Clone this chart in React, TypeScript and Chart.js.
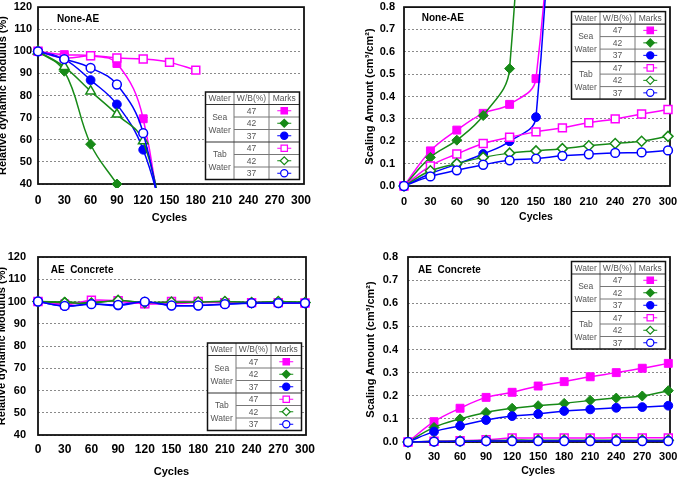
import React, { useEffect, useRef } from "react";
import { Chart, registerables } from "chart.js";

Chart.register(...registerables);

// Freeze-thaw cycles (x axis)
const cycles = [0, 30, 60, 90, 120, 150, 180, 210, 240, 270, 300];
const wbRatios = ["47", "42", "37"];
const waterGroups = [["Sea", "Water"], ["Tab", "Water"]];
const tableHeader = ["Water", "W/B(%)", "Marks"];

// None-AE concrete: relative dynamic modulus (%)
const nonAeModSea47 = [100, 98.5, 98, 94.5, 69.5, -12];
const nonAeModSea42 = [100, 91, 58, 40];
const nonAeModSea37 = [100, 96.5, 87, 76, 55.5, 14];
const nonAeModTab47 = [100, 97, 98, 97, 96.5, 95, 91.5];
const nonAeModTab42 = [100, 93, 82, 71.5, 59.5, 6];
const nonAeModTab37 = [100, 96.5, 92.5, 85, 63, 0];

// None-AE concrete: scaling amount (cm3/cm2)
const nonAeScaleSea47 = [0, 0.157, 0.25, 0.325, 0.365, 0.48, 2.4];
const nonAeScaleSea42 = [0, 0.128, 0.205, 0.315, 0.525, 3.2];
const nonAeScaleSea37 = [0, 0.055, 0.098, 0.143, 0.2, 0.308, 2.8];
const nonAeScaleTab47 = [0, 0.09, 0.143, 0.19, 0.218, 0.242, 0.26, 0.283, 0.3, 0.322, 0.342];
const nonAeScaleTab42 = [0, 0.068, 0.1, 0.128, 0.147, 0.157, 0.167, 0.18, 0.19, 0.2, 0.222];
const nonAeScaleTab37 = [0, 0.043, 0.07, 0.095, 0.115, 0.122, 0.135, 0.142, 0.148, 0.15, 0.159];

// AE concrete: relative dynamic modulus (%)
const aeModSea47 = [100, 99, 100, 100, 99, 99, 99.5, 99.5, 99.5, 99.5, 99.3];
const aeModSea42 = [100, 99.8, 99.6, 100.3, 99.5, 99.6, 99.8, 100, 99.6, 100, 99.6];
const aeModSea37 = [100, 98, 99, 98.2, 99.8, 98.2, 98.2, 98.8, 99.2, 99.2, 99.2];
const aeModTab47 = [100, 98.5, 100.6, 100.3, 99, 100, 100, 99.5, 99.5, 99.5, 99.3];
const aeModTab42 = [100, 99.5, 99.3, 100.5, 99.5, 99.8, 99.8, 100, 99.5, 100, 99.5];
const aeModTab37 = [100, 98, 98.8, 98.5, 99.9, 98.2, 98.2, 98.8, 99.3, 99.3, 99.3];

// AE concrete: scaling amount (cm3/cm2)
const aeScaleSea47 = [0, 0.088, 0.146, 0.193, 0.215, 0.242, 0.261, 0.282, 0.3, 0.319, 0.34];
const aeScaleSea42 = [0, 0.063, 0.1, 0.128, 0.146, 0.157, 0.167, 0.18, 0.19, 0.199, 0.222];
const aeScaleSea37 = [0, 0.045, 0.07, 0.095, 0.112, 0.121, 0.134, 0.141, 0.148, 0.151, 0.157];
const aeScaleTab47 = [0, 0.003, 0.006, 0.01, 0.017, 0.017, 0.017, 0.017, 0.018, 0.018, 0.018];
const aeScaleTab42 = [0, 0.003, 0.004, 0.006, 0.008, 0.008, 0.008, 0.008, 0.008, 0.008, 0.008];
const aeScaleTab37 = [0, 0.002, 0.003, 0.004, 0.004, 0.004, 0.004, 0.004, 0.004, 0.004, 0.004];

const MAGENTA = "#FF00FF";
const GREEN = "#178A17";
const BLUE = "#0000FF";
const SANS = "'Liberation Sans', Arial, sans-serif";
const NARROW = "'Liberation Sans Narrow', 'Liberation Sans', Arial, sans-serif";

type Shape = "rect" | "diamond" | "circle" | "triangle";
type MarkStyle = { color: string; shape: Shape; filled: boolean };

// Sea 47/42/37 then Tab 47/42/37
const markStyles: MarkStyle[] = [
  { color: MAGENTA, shape: "rect", filled: true },
  { color: GREEN, shape: "diamond", filled: true },
  { color: BLUE, shape: "circle", filled: true },
  { color: MAGENTA, shape: "rect", filled: false },
  { color: GREEN, shape: "diamond", filled: false },
  { color: BLUE, shape: "circle", filled: false },
];

type PanelSpec = {
  left: number;
  top: number;
  width: number;
  height: number;
  area: [number, number, number, number];
  frameRight: number;
  yMin: number;
  yMax: number;
  yStep: number;
  decimals: number;
  series: number[][];
  caption: string;
  captionAt: [number, number];
  yTitle: string;
  yTitlePad: number;
  yTitleSize: number;
  xTitlePad: number;
  xTitleSize: number;
  xTickSize: number;
  xTickPad: number;
  yTickFamily: string;
  yTickSize: number;
  yTickPad: number;
  tableAtTop: boolean;
  clip: { left: number; top: number; right: number; bottom: number };
  openGreenShape: Shape;
};

const panels: PanelSpec[] = [
  {
    left: 0, top: 0, width: 340, height: 235,
    area: [38, 5, 301, 184], frameRight: 304,
    yMin: 40, yMax: 120, yStep: 10, decimals: 0,
    series: [nonAeModSea47, nonAeModSea42, nonAeModSea37, nonAeModTab47, nonAeModTab42, nonAeModTab37],
    caption: "None-AE", captionAt: [19, 12],
    yTitle: "Relative dynamic modulus (%)", yTitlePad: -3.6, yTitleSize: 11,
    xTitlePad: 10.4, xTitleSize: 11,
    xTickSize: 12, xTickPad: 9.8,
    yTickFamily: NARROW, yTickSize: 11, yTickPad: 6,
    tableAtTop: false,
    clip: { left: 8, top: 8, right: 8, bottom: 4 },
    openGreenShape: "triangle",
  },
  {
    left: 340, top: 0, width: 339, height: 235,
    area: [64, 5, 328, 186], frameRight: 330,
    yMin: 0, yMax: 0.8, yStep: 0.1, decimals: 1,
    series: [nonAeScaleSea47, nonAeScaleSea42, nonAeScaleSea37, nonAeScaleTab47, nonAeScaleTab42, nonAeScaleTab37],
    caption: "None-AE", captionAt: [17.7, 10.7],
    yTitle: "Scaling Amount (cm\u00B3/cm\u00B2)", yTitlePad: 23.4, yTitleSize: 11,
    xTitlePad: 11.7, xTitleSize: 10.5,
    xTickSize: 11, xTickPad: 9.4,
    yTickFamily: SANS, yTickSize: 11, yTickPad: 9,
    tableAtTop: true,
    clip: { left: 8, top: 10, right: 8, bottom: 8 },
    openGreenShape: "diamond",
  },
  {
    left: 0, top: 240, width: 340, height: 239,
    area: [38, 17, 305, 195], frameRight: 306,
    yMin: 40, yMax: 120, yStep: 10, decimals: 0,
    series: [aeModSea47, aeModSea42, aeModSea37, aeModTab47, aeModTab42, aeModTab37],
    caption: "AE  Concrete", captionAt: [12.7, 13],
    yTitle: "Relative dynamic Modulus (%)", yTitlePad: -4.6, yTitleSize: 11,
    xTitlePad: 0.4, xTitleSize: 11,
    xTickSize: 12, xTickPad: 7.8,
    yTickFamily: NARROW, yTickSize: 11, yTickPad: 12,
    tableAtTop: false,
    clip: { left: 8, top: 8, right: 8, bottom: 8 },
    openGreenShape: "diamond",
  },
  {
    left: 340, top: 240, width: 339, height: 239,
    area: [68, 17, 328.3, 202], frameRight: 330,
    yMin: 0, yMax: 0.8, yStep: 0.1, decimals: 1,
    series: [aeScaleSea47, aeScaleSea42, aeScaleSea37, aeScaleTab47, aeScaleTab42, aeScaleTab37],
    caption: "AE  Concrete", captionAt: [10, 13],
    yTitle: "Scaling Amount (cm\u00B3/cm\u00B2)", yTitlePad: 24, yTitleSize: 11,
    xTitlePad: 1.7, xTitleSize: 10.5,
    xTickSize: 11, xTickPad: 8.4,
    yTickFamily: SANS, yTickSize: 11, yTickPad: 10,
    tableAtTop: true,
    clip: { left: 8, top: 8, right: 8, bottom: 8 },
    openGreenShape: "diamond",
  },
];

const chartPointStyle = (s: Shape) => (s === "diamond" ? "rectRot" : s);
const chartPointRadius = (s: Shape) =>
  s === "rect" ? 5.6 : s === "diamond" ? 5 : s === "triangle" ? 5.5 : 4.4;

function drawMark(ctx: CanvasRenderingContext2D, m: MarkStyle, x: number, y: number) {
  ctx.beginPath();
  if (m.shape === "rect") {
    ctx.rect(x - 3.2, y - 3.2, 6.4, 6.4);
  } else if (m.shape === "diamond") {
    ctx.moveTo(x - 4, y);
    ctx.lineTo(x, y - 4);
    ctx.lineTo(x + 4, y);
    ctx.lineTo(x, y + 4);
    ctx.closePath();
  } else {
    ctx.arc(x, y, 3.6, 0, Math.PI * 2);
  }
  ctx.fillStyle = m.filled ? m.color : "#FFFFFF";
  ctx.fill();
  ctx.lineWidth = 1.2;
  ctx.strokeStyle = m.color;
  ctx.stroke();
}

// Black box around the plotting area
const framePlugin = {
  id: "frame",
  beforeDatasetsDraw(chart: any) {
    const spec: PanelSpec = chart.options.plugins.panel;
    const a = chart.chartArea;
    const ctx = chart.ctx;
    ctx.save();
    ctx.strokeStyle = "#111";
    ctx.lineWidth = 1.8;
    ctx.strokeRect(a.left, a.top, spec.frameRight - a.left, a.bottom - a.top);
    ctx.restore();
  },
};

// Caption and W/B key table inside the plot
const keyPlugin = {
  id: "keyTable",
  afterDatasetsDraw(chart: any) {
    const spec: PanelSpec = chart.options.plugins.panel;
    const a = chart.chartArea;
    const ctx: CanvasRenderingContext2D = chart.ctx;
    ctx.save();

    ctx.fillStyle = "#000";
    ctx.font = `bold 10px ${SANS}`;
    ctx.textAlign = "left";
    ctx.textBaseline = "middle";
    ctx.fillText(spec.caption, a.left + spec.captionAt[0], a.top + spec.captionAt[1]);

    const colW = [28.5, 35, 30.5];
    const headH = 12.5;
    const rowH = 12.5;
    const tw = colW[0] + colW[1] + colW[2];
    const th = headH + rowH * 6;
    const x0 = spec.frameRight - 4.5 - tw;
    const y0 = spec.tableAtTop ? a.top + 4.5 : a.bottom - 4.5 - th;
    const c1 = x0 + colW[0];
    const c2 = c1 + colW[1];

    ctx.fillStyle = "#FFFFFF";
    ctx.fillRect(x0, y0, tw, th);

    // inner row lines (within each group)
    ctx.strokeStyle = "#777";
    ctx.lineWidth = 1;
    ctx.beginPath();
    for (let r = 1; r < 6; r++) {
      if (r === 3) continue;
      const y = y0 + headH + r * rowH;
      ctx.moveTo(c1, y);
      ctx.lineTo(x0 + tw, y);
    }
    ctx.moveTo(c1, y0);
    ctx.lineTo(c1, y0 + th);
    ctx.moveTo(c2, y0);
    ctx.lineTo(c2, y0 + th);
    ctx.stroke();

    ctx.strokeStyle = "#333";
    ctx.lineWidth = 1.2;
    ctx.beginPath();
    ctx.moveTo(x0, y0 + headH);
    ctx.lineTo(x0 + tw, y0 + headH);
    ctx.moveTo(x0, y0 + headH + 3 * rowH);
    ctx.lineTo(x0 + tw, y0 + headH + 3 * rowH);
    ctx.stroke();

    ctx.strokeStyle = "#111";
    ctx.lineWidth = 1.5;
    ctx.strokeRect(x0, y0, tw, th);

    ctx.fillStyle = "#555";
    ctx.font = `8.5px ${SANS}`;
    ctx.textAlign = "center";
    ctx.textBaseline = "middle";
    const centers = [x0 + colW[0] / 2, c1 + colW[1] / 2, c2 + colW[2] / 2];
    tableHeader.forEach((t, i) => ctx.fillText(t, centers[i], y0 + headH / 2 + 0.5));

    waterGroups.forEach((g, gi) => {
      const gy = y0 + headH + gi * 3 * rowH + 1.5 * rowH;
      ctx.fillStyle = "#555";
      ctx.fillText(g[0], centers[0], gy - 6);
      ctx.fillText(g[1], centers[0], gy + 7);
    });

    for (let r = 0; r < 6; r++) {
      const cy = y0 + headH + r * rowH + rowH / 2;
      ctx.fillStyle = "#555";
      ctx.fillText(wbRatios[r % 3], centers[1], cy + 0.5);
      const m = markStyles[r];
      ctx.strokeStyle = m.color;
      ctx.lineWidth = 1;
      ctx.beginPath();
      ctx.moveTo(centers[2] - 7, cy);
      ctx.lineTo(centers[2] + 7, cy);
      ctx.stroke();
      drawMark(ctx, m, centers[2], cy);
    }
    ctx.restore();
  },
};

function Panel({ spec }: { spec: PanelSpec }) {
  const ref = useRef<HTMLCanvasElement>(null);

  useEffect(() => {
    const canvas = ref.current;
    if (!canvas) return;
    const [aLeft, aTop, aRight, aBottom] = spec.area;

    const datasets = spec.series.map((vals, i) => {
      const st = markStyles[i];
      const shape = i === 4 ? spec.openGreenShape : st.shape;
      return {
        label: `${i < 3 ? "Sea" : "Tab"} ${wbRatios[i % 3]}`,
        data: vals.map((v, j) => ({ x: cycles[j], y: v })),
        borderColor: st.color,
        backgroundColor: st.filled ? st.color : "#FFFFFF",
        borderWidth: 1.5,
        pointStyle: chartPointStyle(shape),
        pointRadius: chartPointRadius(shape),
        pointBorderWidth: st.filled ? 1 : 1.5,
        pointBorderColor: st.color,
        pointBackgroundColor: st.filled ? st.color : "#FFFFFF",
        tension: 0.4,
        clip: spec.clip,
        order: 6 - i,
      };
    });

    const chart = new Chart(canvas, {
      type: "line",
      data: { datasets },
      options: {
        animation: false,
        responsive: false,
        devicePixelRatio: 1,
        events: [],
        layout: {
          padding: { left: 0, top: aTop, right: spec.width - aRight, bottom: 0 },
        },
        plugins: {
          legend: { display: false },
          tooltip: { enabled: false },
          panel: spec,
        } as any,
        scales: {
          x: {
            type: "linear",
            min: 0,
            max: 300,
            grid: { display: false, drawTicks: false },
            border: { display: false },
            ticks: {
              stepSize: 30,
              padding: spec.xTickPad,
              color: "#000",
              maxRotation: 0,
              autoSkip: false,
              font: { family: SANS, size: spec.xTickSize, weight: "bold" },
            },
            title: {
              display: true,
              text: "Cycles",
              color: "#000",
              font: { family: SANS, size: spec.xTitleSize, weight: "bold" },
              padding: { top: 0, bottom: spec.xTitlePad },
            },
            afterFit: (s: any) => {
              s.height = spec.height - aBottom;
              s.paddingLeft = 0;
              s.paddingRight = 0;
            },
          },
          y: {
            type: "linear",
            min: spec.yMin,
            max: spec.yMax,
            grid: {
              color: "#8a8a8a",
              lineWidth: 1,
              drawTicks: false,
            },
            border: { display: false, dash: [2, 2] },
            ticks: {
              stepSize: spec.yStep,
              padding: spec.yTickPad,
              color: "#000",
              font: { family: spec.yTickFamily, size: spec.yTickSize, weight: "bold" },
              callback: (v: any) => Number(v).toFixed(spec.decimals),
            },
            title: {
              display: true,
              text: spec.yTitle,
              color: "#000",
              font: { family: SANS, size: spec.yTitleSize, weight: "bold" },
              padding: { top: spec.yTitlePad, bottom: 0 },
            },
            afterFit: (s: any) => {
              s.width = aLeft;
              s.paddingTop = 0;
              s.paddingBottom = 0;
            },
          },
        },
      } as any,
      plugins: [framePlugin, keyPlugin],
    });

    return () => chart.destroy();
  }, [spec]);

  return (
    <canvas
      ref={ref}
      width={spec.width}
      height={spec.height}
      style={{
        position: "absolute",
        left: spec.left,
        top: spec.top,
        width: spec.width,
        height: spec.height,
      }}
    />
  );
}

export default function App() {
  return (
    <div
      style={{
        position: "absolute",
        left: 0,
        top: 0,
        width: 679,
        height: 479,
        background: "#FFFFFF",
        overflow: "hidden",
      }}
    >
      {panels.map((p, i) => (
        <Panel key={i} spec={p} />
      ))}
    </div>
  );
}
